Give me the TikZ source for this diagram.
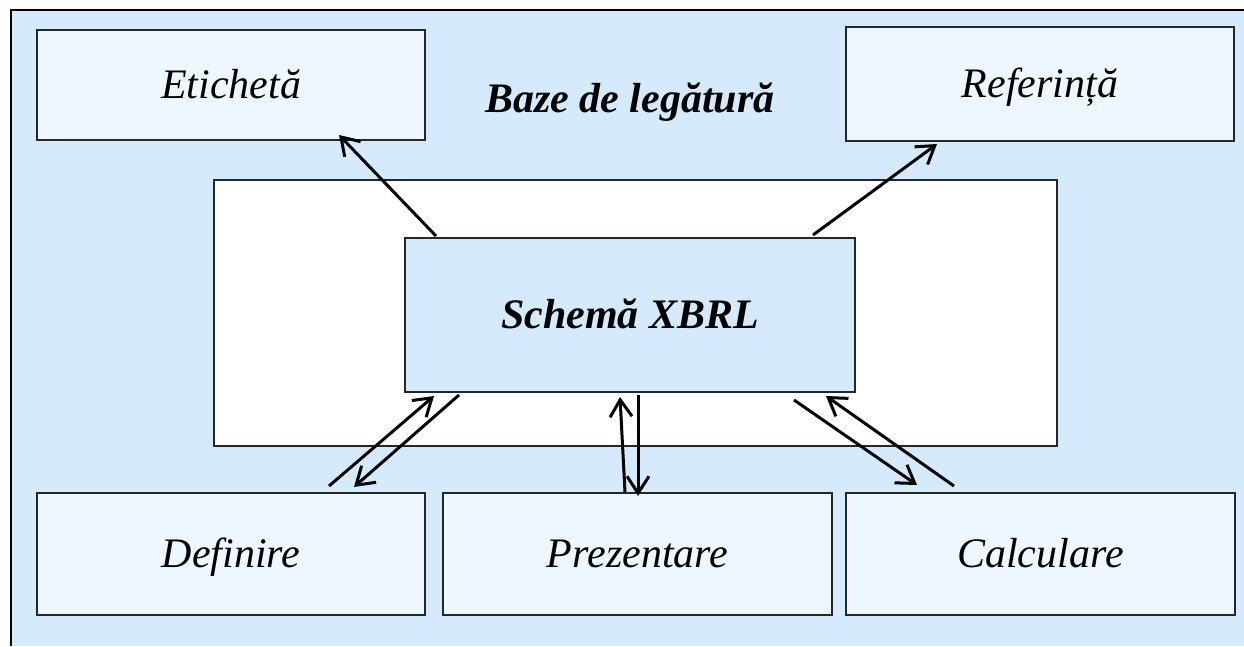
\documentclass[tikz,border=0pt]{standalone}
\usepackage{fontspec}
\setmainfont{Liberation Serif}
\usetikzlibrary{arrows.meta}
\definecolor{bgblue}{RGB}{214,234,253}
\definecolor{boxblue}{RGB}{238,246,255}
\begin{document}
\begin{tikzpicture}[x=1pt,y=-1pt,
  box/.style={draw=black!85,line width=2pt,fill=boxblue,inner sep=0pt,
    text height=32pt,text depth=6pt,
    font=\fontsize{42}{50}\selectfont\itshape},
  lbl/.style={font=\fontsize{42}{50}\selectfont\bfseries\itshape,inner sep=0pt,
    text height=32pt,text depth=6pt},
  conn/.style={line width=3pt,-{Straight Barb[length=17pt,width=22pt,line width=3pt]}}]
\useasboundingbox (0,0) rectangle (1244,646);
\fill[white] (0,0) rectangle (1244,646);
\fill[bgblue] (11,10) rectangle (1244,646);
\draw[line width=2.5pt] (11,646) -- (11,10) -- (1244,10);
\node[draw=black!85,line width=2pt,fill=white,minimum width=843pt,minimum height=266pt] (frame) at (635.5,313) {};
\node[box,fill=bgblue,minimum width=450pt,minimum height=154pt,font=\fontsize{42}{50}\selectfont\bfseries\itshape] (schema) at (630,315) {Schemă XBRL};
\node[box,minimum width=388pt,minimum height=110pt] (etic) at (231,85) {Etichetă};
\node[box,minimum width=388pt,minimum height=114pt] (ref) at (1040,84) {Referință};
\node[box,minimum width=388pt,minimum height=122pt] (def) at (231,554) {Definire};
\node[box,minimum width=389pt,minimum height=122pt] (pres) at (637.5,554) {Prezentare};
\node[box,minimum width=389pt,minimum height=122pt] (calc) at (1040.5,554) {Calculare};
\node[lbl] (title) at (630,99) {Baze de legătură};
\draw[conn] ([xshift=32pt,yshift=1pt]schema.north west) -- ([xshift=-87pt,yshift=6pt]etic.south east);
\draw[conn] ([xshift=-43pt,yshift=2pt]schema.north east) -- ([xshift=92pt,yshift=-2pt]ref.south west);
\draw[conn] ([xshift=-97pt,yshift=6pt]def.north east) -- ([xshift=30pt,yshift=-3pt]schema.south west);
\draw[conn] ([xshift=55pt,yshift=-2pt]schema.south west) -- ([xshift=-72pt,yshift=5pt]def.north east);
\draw[conn] ([xshift=-12.5pt]pres.north) -- ([xshift=-10pt,yshift=-4pt]schema.south);
\draw[conn] ([xshift=8pt,yshift=-2pt]schema.south) -- ([xshift=0.5pt,yshift=-4pt]pres.north);
\draw[conn] ([xshift=-62pt,yshift=-7pt]schema.south east) -- ([xshift=72pt,yshift=7pt]calc.north west);
\draw[conn] ([xshift=109pt,yshift=6pt]calc.north west) -- ([xshift=-30pt,yshift=-3pt]schema.south east);
\end{tikzpicture}
\end{document}
